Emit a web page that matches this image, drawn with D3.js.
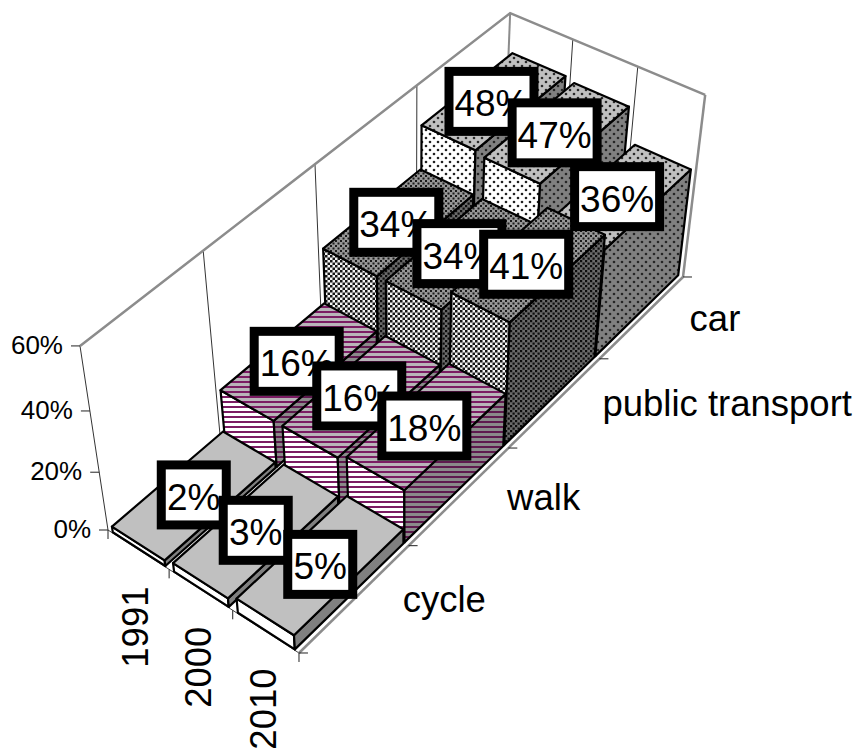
<!DOCTYPE html>
<html>
<head>
<meta charset="utf-8">
<script src="https://cdn.jsdelivr.net/npm/d3@7/dist/d3.min.js"></script>
<style>
html,body{margin:0;padding:0;background:#fff}
svg{display:block}
text{font-family:"Liberation Sans",Arial,sans-serif;fill:#000}
</style>
</head>
<body>
<svg id="chart" width="859" height="751"></svg>
<script>
// Travel mode share by year, as a 3-D bar chart.
const years = ["1991", "2000", "2010"];
const modes = ["cycle", "walk", "public transport", "car"];
const cycleShare = [2, 3, 5];
const walkShare = [16, 16, 18];
const transportShare = [34, 34, 41];
const carShare = [48, 47, 36];
const shares = [cycleShare, walkShare, transportShare, carShare];
const valueTicks = [0, 20, 40, 60];

// Domain scales feeding the perspective camera.
const sx = d3.scaleLinear().domain([0, years.length]).range([0, 1]);
const sy = d3.scaleLinear().domain([0, modes.length]).range([0, 1]);
const sz = d3.scaleLinear().domain([0, 60]).range([0, 1]);

// Homogeneous camera matrix: year axis, mode axis, value axis, origin.
const cam = {
  x: [173.4, 488.9, -34.77, 108],
  y: [84.56, -302.16, -213.4, 530],
  w: [-0.05886, 0.18668, -0.0848, 1]
};
function project(yearPos, modePos, value) {
  const v = [sx(yearPos), sy(modePos), sz(value), 1];
  const dot = r => r[0]*v[0] + r[1]*v[1] + r[2]*v[2] + r[3]*v[3];
  const w = dot(cam.w);
  return [dot(cam.x) / w, dot(cam.y) / w];
}

const svg = d3.select("#chart");
const defs = svg.append("defs");

function stripes(id, bg, fg) {
  const p = defs.append("pattern").attr("id", id).attr("patternUnits", "userSpaceOnUse")
    .attr("width", 8).attr("height", 5);
  p.append("rect").attr("width", 8).attr("height", 5).attr("fill", bg);
  p.append("rect").attr("y", 1).attr("width", 8).attr("height", 2).attr("fill", fg);
}
function checker(id, bg, fg, size) {
  const p = defs.append("pattern").attr("id", id).attr("patternUnits", "userSpaceOnUse")
    .attr("width", 5).attr("height", 5);
  p.append("rect").attr("width", 5).attr("height", 5).attr("fill", bg);
  p.append("rect").attr("width", size).attr("height", size).attr("fill", fg);
  p.append("rect").attr("x", 2.5).attr("y", 2.5).attr("width", size).attr("height", size).attr("fill", fg);
}
function dots(id, bg, fg) {
  const p = defs.append("pattern").attr("id", id).attr("patternUnits", "userSpaceOnUse")
    .attr("width", 8).attr("height", 8);
  p.append("rect").attr("width", 8).attr("height", 8).attr("fill", bg);
  p.append("circle").attr("cx", 2).attr("cy", 2).attr("r", 1.3).attr("fill", fg);
  p.append("circle").attr("cx", 6).attr("cy", 6).attr("r", 1.3).attr("fill", fg);
}
stripes("walkFront", "#ffffff", "#7b1c63");
stripes("walkTop", "#b9b4b9", "#7b1c63");
stripes("walkSide", "#8a8a8a", "#5e1a4e");
checker("ptFront", "#f4f4f4", "#151515", 2.5);
checker("ptTop", "#979797", "#1a1a1a", 2);
checker("ptSide", "#6a6a6a", "#0c0c0c", 2.2);
dots("carFront", "#ffffff", "#202020");
dots("carTop", "#c0c0c0", "#2a2a2a");
dots("carSide", "#808080", "#262626");

// Face fills for each mode, in the order of `modes`.
const faceFills = [
  { front: "#ffffff", top: "#c0c0c0", side: "#808080" },
  { front: "url(#walkFront)", top: "url(#walkTop)", side: "url(#walkSide)" },
  { front: "url(#ptFront)", top: "url(#ptTop)", side: "url(#ptSide)" },
  { front: "url(#carFront)", top: "url(#carTop)", side: "url(#carSide)" }
];

const line = d3.line();
const poly = pts => line(pts) + "Z";

// Back walls: vertical grid lines plus the grey outline.
const walls = svg.append("g");
d3.range(0, modes.length).forEach(m => {
  walls.append("path").attr("d", line([project(0, m, 0), project(0, m, 60)]))
    .attr("stroke", "#333").attr("stroke-width", 1).attr("fill", "none");
});
d3.range(1, years.length).forEach(y => {
  walls.append("path").attr("d", line([project(y, modes.length, 0), project(y, modes.length, 60)]))
    .attr("stroke", "#333").attr("stroke-width", 1).attr("fill", "none");
});
walls.append("path")
  .attr("d", line([project(0, modes.length, 0), project(0, modes.length, 60)]))
  .attr("stroke", "#8c8c8c").attr("stroke-width", 2).attr("fill", "none");
walls.append("path")
  .attr("d", line([project(years.length, modes.length, 0), project(years.length, modes.length, 60)]))
  .attr("stroke", "#8c8c8c").attr("stroke-width", 2.5).attr("fill", "none");
walls.append("path")
  .attr("d", line([project(0, 0, 60), project(0, modes.length, 60), project(years.length, modes.length, 60)]))
  .attr("stroke", "#8c8c8c").attr("stroke-width", 2.5).attr("fill", "none").attr("stroke-linejoin", "miter");

// Floor edges and tick marks.
const floorEdge = svg.append("g");
floorEdge.append("path")
  .attr("d", line([project(0, 0, 0), project(years.length, 0, 0)]))
  .attr("stroke", "#444").attr("stroke-width", 1).attr("fill", "none");
floorEdge.append("path")
  .attr("d", line([project(years.length, 0, 0), project(years.length, modes.length, 0)]))
  .attr("stroke", "#8c8c8c").attr("stroke-width", 2.5).attr("fill", "none");
d3.range(0, modes.length + 1).forEach(m => {
  const p = project(years.length, m, 0);
  floorEdge.append("path").attr("d", line([p, [p[0] + 9, p[1]]])).attr("stroke", "#222").attr("fill", "none");
});
d3.range(0, years.length + 1).forEach(y => {
  const p = project(y, 0, 0);
  floorEdge.append("path").attr("d", line([p, [p[0], p[1] + 9]])).attr("stroke", "#222").attr("fill", "none");
});

// Bars, painted from the back row forward so nearer ones overlap.
const gapYear = 0.07, gapMode = 0.005;
const bars = svg.append("g").attr("stroke", "#000").attr("stroke-width", 2.2).attr("stroke-linejoin", "round");
d3.range(modes.length - 1, -1, -1).forEach(m => {
  years.forEach((_, y) => {
    const v = shares[m][y];
    const x0 = y + gapYear, x1 = y + 1 - gapYear;
    const m0 = m + gapMode, m1 = m + 1 - gapMode;
    const fill = faceFills[m];
    bars.append("path").attr("fill", fill.front)
      .attr("d", poly([project(x0, m0, 0), project(x1, m0, 0), project(x1, m0, v), project(x0, m0, v)]));
    bars.append("path").attr("fill", fill.side)
      .attr("d", poly([project(x1, m0, 0), project(x1, m1, 0), project(x1, m1, v), project(x1, m0, v)]));
    bars.append("path").attr("fill", fill.top)
      .attr("d", poly([project(x0, m0, v), project(x1, m0, v), project(x1, m1, v), project(x0, m1, v)]));
  });
});

// Value axis text and ticks on the left wall edge.
const valueAxis = svg.append("g");
valueTicks.forEach(t => {
  const p = project(0, 0, t);
  valueAxis.append("path").attr("d", line([[p[0] - 9, p[1]], p])).attr("stroke", "#222").attr("fill", "none");
  valueAxis.append("text").attr("x", p[0] - 17).attr("y", p[1] + 8)
    .attr("text-anchor", "end").attr("font-size", 26).text(t + "%");
});

// Year labels run up the page under the front edge.
years.forEach((label, y) => {
  const p = project(y + 0.5, 0, 0);
  svg.append("text").attr("transform", `translate(${p[0] + 10},${p[1] + 37}) rotate(-90)`)
    .attr("text-anchor", "end").attr("font-size", 36.5).text(label);
});

// Mode labels alongside the right-hand floor edge.
modes.forEach((label, m) => {
  const p = project(years.length, m + 0.5, 0);
  svg.append("text").attr("x", p[0] + 47.5).attr("y", p[1] + 14)
    .attr("font-size", 36.5).text(label);
});

// Boxed percentage labels centred on each bar's top.
const labels = svg.append("g");
d3.range(modes.length - 1, -1, -1).forEach(m => {
  years.forEach((_, y) => {
    const v = shares[m][y];
    const txt = v + "%";
    const wide = txt.length === 3;
    const c = project(y + 0.5, m + 0.5, v);
    const g = labels.append("g").attr("transform", `translate(${c[0] - (wide ? 3 : 1)},${c[1] + 1})`);
    const w = wide ? 76 : 56;
    g.append("rect").attr("x", -w / 2 - 4.5).attr("y", -30).attr("width", w + 9).attr("height", 60)
      .attr("fill", "#fff").attr("stroke", "#000").attr("stroke-width", 9);
    g.append("text").attr("text-anchor", "middle").attr("y", 15).attr("font-size", 37).text(txt);
  });
});
</script>
</body>
</html>
